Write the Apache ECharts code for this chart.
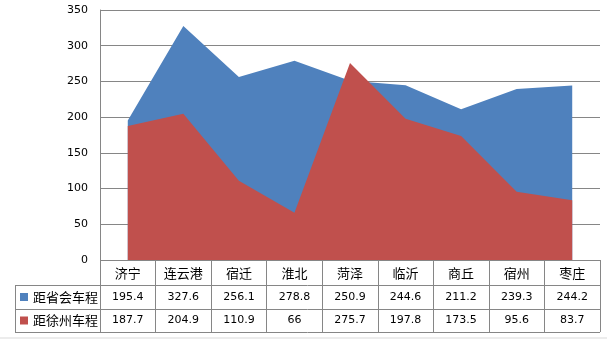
<!DOCTYPE html>
<html><head><meta charset="utf-8">
<script src="https://cdn.jsdelivr.net/npm/echarts@6/dist/echarts.min.js"></script>
<style>html,body{margin:0;padding:0;background:#fff}#c{width:607px;height:339px}</style>
</head><body><div id="c"></div>
<script>
var categories = ['济宁','连云港','宿迁','淮北','菏泽','临沂','商丘','宿州','枣庄'];
var seriesNames = ['距省会车程','距徐州车程'];
var toCapital = [195.4, 327.6, 256.1, 278.8, 250.9, 244.6, 211.2, 239.3, 244.2];
var toXuzhou = [187.7, 204.9, 110.9, 66, 275.7, 197.8, 173.5, 95.6, 83.7];
var yTicks = [0, 50, 100, 150, 200, 250, 300, 350];

var GL = 100, GR = 600, GT = 10, GB = 260, TL = 15;
var ROW1 = 285, ROW2 = 309, TB = 332;
var lineC = '#868686';
var cjk = '"Noto Sans CJK SC", sans-serif';
var num = '"DejaVu Sans", Verdana, sans-serif';

var chart = echarts.init(document.getElementById('c'));

function valAxis(vals, margin) {
  return {
    type: 'category', data: categories, gridIndex: 0, position: 'bottom',
    axisLine: {show: false}, axisTick: {show: false}, splitLine: {show: false},
    axisLabel: {interval: 0, margin: margin, verticalAlign: 'middle',
      fontFamily: num, fontSize: 11, color: '#000',
      formatter: function (v, i) { return String(vals[i]); }}
  };
}

var hl = function (x1, y1, x2, y2) {
  return {type: 'line', shape: {x1: x1, y1: y1, x2: x2, y2: y2},
    style: {stroke: lineC, lineWidth: 1}, silent: true};
};

chart.setOption({
  animation: false,
  backgroundColor: '#fff',
  grid: {left: GL, right: 607 - GR, top: GT, bottom: 339 - GB, containLabel: false},
  legend: {
    orient: 'vertical', left: 20, top: 289, itemGap: 7.5, padding: 0,
    icon: 'rect', itemWidth: 8, itemHeight: 8,
    textStyle: {fontFamily: cjk, fontSize: 13, color: '#000', lineHeight: 16},
    data: seriesNames
  },
  xAxis: [
    {
      type: 'category', data: categories, boundaryGap: true,
      axisLine: {show: false},
      axisTick: {show: true, length: TB - GB, lineStyle: {color: lineC}},
      axisLabel: {interval: 0, margin: 13, verticalAlign: 'middle',
        fontFamily: cjk, fontSize: 13, color: '#000'},
      splitLine: {show: false}
    },
    valAxis(toCapital, 37),
    valAxis(toXuzhou, 60)
  ],
  yAxis: {
    type: 'value', min: yTicks[0], max: yTicks[yTicks.length - 1], interval: 50,
    axisLine: {show: true, lineStyle: {color: lineC}},
    axisTick: {show: false},
    axisLabel: {margin: 12, fontFamily: num, fontSize: 11, color: '#000'},
    splitLine: {show: true, lineStyle: {color: lineC, width: 1}}
  },
  series: [
    {name: seriesNames[0], type: 'line', data: toCapital, symbol: 'none',
      lineStyle: {width: 0}, itemStyle: {color: '#4F81BD'},
      areaStyle: {color: '#4F81BD', opacity: 1}, z: 2},
    {name: seriesNames[1], type: 'line', data: toXuzhou, symbol: 'none',
      lineStyle: {width: 0}, itemStyle: {color: '#C0504D'},
      areaStyle: {color: '#C0504D', opacity: 1}, z: 3}
  ],
  graphic: [
    hl(GL + 0.5, GB, GL + 0.5, TB),
    hl(TL, ROW1 + 0.5, GR, ROW1 + 0.5),
    hl(TL, ROW2 + 0.5, GR, ROW2 + 0.5),
    hl(TL, TB + 0.5, GR, TB + 0.5),
    hl(TL + 0.5, ROW1, TL + 0.5, TB + 1),
    {type: 'rect', shape: {x: 0, y: 337, width: 607, height: 2}, style: {fill: '#ececec'}, silent: true}
  ]
});
</script></body></html>
